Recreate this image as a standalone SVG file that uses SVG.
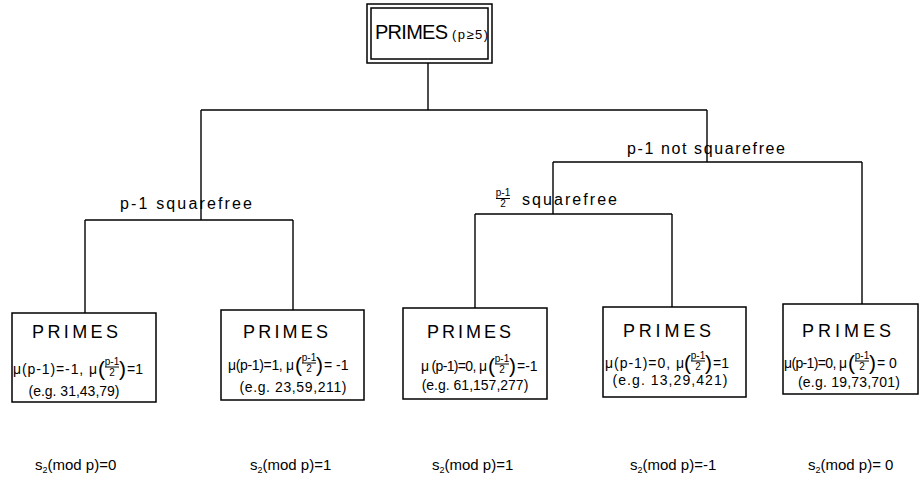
<svg xmlns="http://www.w3.org/2000/svg" width="922" height="486" viewBox="0 0 922 486">
<style>
text{font-family:"Liberation Sans","DejaVu Sans",sans-serif;fill:#000}
.box{fill:#fff;stroke:#000;stroke-width:1.5}
.ln{stroke:#000;stroke-width:1.4;fill:none}
.title{font-size:18px;letter-spacing:4px}
.m{font-size:14px}
.eg{font-size:14px;text-anchor:middle}
.fr{font-size:10px;text-anchor:middle}
.fl{stroke:#000;stroke-width:1}
.br{font-size:21px}
.lab{font-size:16px}
.s{font-size:15px}
.sub{font-size:9px}
</style>
<rect width="922" height="486" fill="#fff"/>
<g id="connectors" class="ln">
<line x1="428" y1="63" x2="428" y2="110"/>
<line x1="201" y1="110" x2="707" y2="110"/>
<line x1="201" y1="110" x2="201" y2="220"/>
<line x1="707" y1="110" x2="707" y2="162"/>
<line x1="85" y1="220" x2="293" y2="220"/>
<line x1="85" y1="220" x2="85" y2="313"/>
<line x1="293" y1="220" x2="293" y2="310"/>
<line x1="553" y1="162" x2="862" y2="162"/>
<line x1="553" y1="162" x2="553" y2="214"/>
<line x1="862" y1="162" x2="862" y2="304"/>
<line x1="475" y1="214" x2="672" y2="214"/>
<line x1="475" y1="214" x2="475" y2="308"/>
<line x1="672" y1="214" x2="672" y2="307"/>
</g>
<g id="edge-labels">
<text class="lab" x="120" y="209" textLength="132">p-1 squarefree</text>
<text class="lab" x="627" y="154" textLength="158">p-1 not squarefree</text>
<text class="fr" x="503" y="196">p-1</text>
<line class="fl" x1="496" y1="198.5" x2="510" y2="198.5"/>
<text class="fr" x="503" y="207">2</text>
<text class="lab" x="522" y="205" textLength="95">squarefree</text>
</g>
<g id="root">
<rect class="box" x="367" y="4" width="125" height="59"/>
<rect class="box" x="371" y="8" width="117" height="51"/>
<text x="375" y="39" style="font-size:20px" textLength="73">PRIMES</text>
<text x="452" y="39" style="font-size:13px" textLength="36">(p≥5)</text>
</g>
<g id="n1">
<rect class="box" x="12" y="313" width="144" height="89"/>
<text class="title" x="32" y="338" textLength="90">PRIMES</text>
<text class="m" x="13" y="374" textLength="84">μ(p-1)=-1, μ</text>
<text class="br" x="98" y="376">(</text>
<text class="fr" x="112" y="365">p-1</text><line class="fl" x1="105" y1="367" x2="119" y2="367"/><text class="fr" x="112" y="376">2</text>
<text class="br" x="119" y="376">)</text>
<text class="m" x="127" y="374">=1</text>
<text class="eg" x="74" y="396">(e.g. 31,43,79)</text>
</g>
<g id="n2">
<rect class="box" x="221" y="310" width="143" height="90"/>
<text class="title" x="243" y="338" textLength="89">PRIMES</text>
<text class="m" x="228" y="370" textLength="66">μ(p-1)=1, μ</text>
<text class="br" x="295" y="372">(</text>
<text class="fr" x="309" y="361">p-1</text><line class="fl" x1="302" y1="363" x2="316" y2="363"/><text class="fr" x="309" y="372">2</text>
<text class="br" x="316" y="372">)</text>
<text class="m" x="324" y="370">= -1</text>
<text class="eg" x="293" y="392" textLength="107">(e.g. 23,59,211)</text>
</g>
<g id="n3">
<rect class="box" x="403" y="308" width="144" height="91"/>
<text class="title" x="427" y="338" textLength="88">PRIMES</text>
<text class="m" x="421" y="371" textLength="66">μ (p-1)=0, μ</text>
<text class="br" x="488" y="373">(</text>
<text class="fr" x="502" y="362">p-1</text><line class="fl" x1="495" y1="364" x2="509" y2="364"/><text class="fr" x="502" y="373">2</text>
<text class="br" x="509" y="373">)</text>
<text class="m" x="517" y="371">=-1</text>
<text class="eg" x="475" y="390">(e.g. 61,157,277)</text>
</g>
<g id="n4">
<rect class="box" x="603" y="307" width="143" height="90"/>
<text class="title" x="623" y="337" textLength="92">PRIMES</text>
<text class="m" x="605" y="368" textLength="79">μ(p-1)=0, μ</text>
<text class="br" x="684" y="370">(</text>
<text class="fr" x="698" y="359">p-1</text><line class="fl" x1="691" y1="361" x2="705" y2="361"/><text class="fr" x="698" y="370">2</text>
<text class="br" x="705" y="370">)</text>
<text class="m" x="713" y="368">=1</text>
<text class="eg" x="670" y="385" textLength="115">(e.g. 13,29,421)</text>
</g>
<g id="n5">
<rect class="box" x="783" y="304" width="135" height="90"/>
<text class="title" x="802" y="337" textLength="93">PRIMES</text>
<text class="m" x="784" y="368" textLength="63">μ(p-1)=0, μ</text>
<text class="br" x="848" y="370">(</text>
<text class="fr" x="862" y="359">p-1</text><line class="fl" x1="855" y1="361" x2="869" y2="361"/><text class="fr" x="862" y="370">2</text>
<text class="br" x="869" y="370">)</text>
<text class="m" x="877" y="368">= 0</text>
<text class="eg" x="849" y="387" textLength="102">(e.g. 19,73,701)</text>
</g>
<g id="results">
<text class="s" x="35" y="470">s<tspan class="sub" dy="3">2</tspan><tspan dy="-3">(mod p)=0</tspan></text>
<text class="s" x="250" y="470">s<tspan class="sub" dy="3">2</tspan><tspan dy="-3">(mod p)=1</tspan></text>
<text class="s" x="432" y="470">s<tspan class="sub" dy="3">2</tspan><tspan dy="-3">(mod p)=1</tspan></text>
<text class="s" x="630" y="470">s<tspan class="sub" dy="3">2</tspan><tspan dy="-3">(mod p)=-1</tspan></text>
<text class="s" x="808" y="470">s<tspan class="sub" dy="3">2</tspan><tspan dy="-3">(mod p)= 0</tspan></text>
</g>
</svg>
